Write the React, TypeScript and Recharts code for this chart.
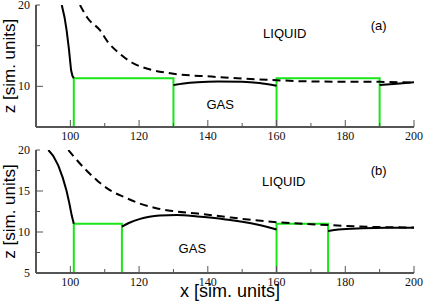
import { LineChart, Line, XAxis, YAxis, ReferenceDot } from "recharts";

// ---- panel (a) ----
const aEdgeX = [97.5, 98.3, 98.9, 99.6, 100.2, 100.6, 101];
const aEdgeZ = [20, 18.5, 16.9, 14.5, 12, 11.3, 11];
const aMidX = [130, 133, 137, 143, 150, 155, 160];
const aMidZ = [10.15, 10.35, 10.5, 10.58, 10.55, 10.4, 10.08];
const aEndX = [190, 195, 200];
const aEndZ = [10.15, 10.33, 10.5];
const aDashX = [102.8, 105, 108.6, 111, 114.4, 118, 123, 130, 141, 150, 160, 170, 180, 190, 200];
const aDashZ = [20, 18.4, 16.9, 15.4, 14, 12.9, 12.1, 11.55, 11.2, 10.95, 10.75, 10.6, 10.57, 10.55, 10.45];
const aBox1X = [101, 101, 130, 130];
const aBox2X = [160, 160, 190, 190];

// ---- panel (b) ----
const bEdgeX = [93.6, 95, 96.5, 97.8, 98.9, 99.7, 100.4, 101];
const bEdgeZ = [20, 19.3, 18.1, 16.6, 15, 13.5, 12, 11];
const bMidX = [115, 117, 120.3, 123, 126, 131, 137, 142, 146.5, 150, 155, 160];
const bMidZ = [10.65, 11.1, 11.6, 11.85, 12, 12.07, 11.9, 11.7, 11.45, 11.25, 10.85, 10.3];
const bEndX = [175, 178, 185, 192, 200];
const bEndZ = [10.12, 10.3, 10.45, 10.52, 10.53];
const bDashX = [99.4, 101, 104.7, 108, 111.5, 116, 120, 125, 130, 137, 145, 150, 160, 175, 190, 200];
const bDashZ = [20, 19.2, 17.5, 16.2, 15.1, 14.2, 13.5, 12.9, 12.55, 12.25, 11.85, 11.6, 11.2, 10.85, 10.6, 10.55];
const bBox1X = [101, 101, 115, 115];
const bBox2X = [160, 160, 175, 175];

const boxZ = [5, 11, 11, 5];

// ticks
const xTicks = [100, 110, 120, 130, 140, 150, 160, 170, 180, 190, 200];
const xMajor = [100, 120, 140, 160, 180, 200];
const aYTicks = [10, 15, 20];
const aYMajor = [10];
const aYLabels = [10, 20];
const bYTicks = [5, 7.5, 10, 12.5, 15, 17.5, 20];
const bYMajor = [10, 15];
const bYLabels = [5, 10, 15, 20];

// annotations
const aNotes = [
  { text: "LIQUID", x: 162.4, z: 16.55 },
  { text: "(a)", x: 189.7, z: 17.5 },
  { text: "GAS", x: 143.6, z: 7.82 },
];
const bNotes = [
  { text: "LIQUID", x: 162.1, z: 16.2 },
  { text: "(b)", x: 189.7, z: 17.56 },
  { text: "GAS", x: 135.5, z: 8.0 },
];

const zip = (xs: number[], zs: number[]) => xs.map((x, i) => ({ x, z: zs[i] }));

const FRAME = "#555";
const GREEN = "#19e619";
const SANS = "'Liberation Sans', Arial, sans-serif";
const SERIF = "'Liberation Serif', 'Times New Roman', serif";

function makeTick(side: string, major: number[], labels: number[]) {
  return (p: any) => {
    const v = p.payload.value;
    const len = major.includes(v) ? 7 : 4;
    const { x, y } = p;
    let line;
    if (side === "bottom") line = <line x1={x} y1={y} x2={x} y2={y - len} />;
    else if (side === "top") line = <line x1={x} y1={y} x2={x} y2={y + len} />;
    else if (side === "left") line = <line x1={x} y1={y} x2={x + len} y2={y} />;
    else line = <line x1={x} y1={y} x2={x - len} y2={y} />;
    let label = null;
    if (labels.includes(v)) {
      if (side === "bottom")
        label = (
          <text x={x} y={y + 13} textAnchor="middle" fontSize={12} fontFamily={SERIF} fill="#111" stroke="none">
            {v}
          </text>
        );
      if (side === "left")
        label = (
          <text x={x - 6} y={y + 4} textAnchor="end" fontSize={12} fontFamily={SERIF} fill="#111" stroke="none">
            {v}
          </text>
        );
    }
    return (
      <g stroke={FRAME} strokeWidth={1}>
        {line}
        {label}
      </g>
    );
  };
}

const yTitle = (props: any) => {
  const vb = props.viewBox;
  const cx = vb.x + 15;
  const cy = vb.y + vb.height / 2;
  return (
    <text x={cx} y={cy} transform={`rotate(-90, ${cx}, ${cy})`} textAnchor="middle" fontSize={17} fontFamily={SANS} fill="#000">
      z [sim. units]
    </text>
  );
};

const xTitle = (props: any) => {
  const vb = props.viewBox;
  return (
    <text x={230} y={vb.y + 24} textAnchor="middle" fontSize={18} fontFamily={SANS} fill="#000">
      x [sim. units]
    </text>
  );
};

type Seg = { xs: number[]; zs: number[]; kind: "linear" | "monotone" };

function Panel(props: {
  height: number;
  bottomH: number;
  yTicks: number[];
  yMajor: number[];
  yLabels: number[];
  solid: Seg[];
  dash: Seg;
  boxes: number[][];
  notes: { text: string; x: number; z: number }[];
  showXTitle: boolean;
}) {
  const axisLine = { stroke: FRAME, strokeWidth: 2 };
  return (
    <LineChart width={424} height={props.height} margin={{ top: 5, right: 10, bottom: 0, left: 0 }}>
      <XAxis
        xAxisId="b"
        type="number"
        dataKey="x"
        domain={[90, 200]}
        ticks={xTicks}
        interval={0}
        height={props.bottomH}
        tickSize={0}
        tickMargin={0}
        axisLine={axisLine}
        tickLine={false}
        tick={makeTick("bottom", xMajor, xMajor)}
        allowDataOverflow
        label={props.showXTitle ? xTitle : undefined}
      />
      <XAxis
        xAxisId="t"
        orientation="top"
        type="number"
        dataKey="x"
        domain={[90, 200]}
        ticks={xTicks}
        interval={0}
        height={0}
        tickSize={0}
        tickMargin={0}
        axisLine={axisLine}
        tickLine={false}
        tick={makeTick("top", xMajor, [])}
        allowDataOverflow
      />
      <YAxis
        yAxisId="l"
        type="number"
        domain={[5, 20]}
        ticks={props.yTicks}
        interval={0}
        width={36}
        tickSize={0}
        tickMargin={0}
        axisLine={axisLine}
        tickLine={false}
        tick={makeTick("left", props.yMajor, props.yLabels)}
        allowDataOverflow
        label={yTitle}
      />
      <YAxis
        yAxisId="r"
        orientation="right"
        type="number"
        domain={[5, 20]}
        ticks={props.yTicks}
        interval={0}
        width={0}
        tickSize={0}
        tickMargin={0}
        axisLine={axisLine}
        tickLine={false}
        tick={makeTick("right", props.yMajor, [])}
        allowDataOverflow
      />
      {props.boxes.map((bx, i) => (
        <Line
          key={"box" + i}
          xAxisId="b"
          yAxisId="l"
          data={zip(bx, boxZ)}
          dataKey="z"
          type="linear"
          stroke={GREEN}
          strokeWidth={2}
          dot={false}
          isAnimationActive={false}
        />
      ))}
      {props.solid.map((s, i) => (
        <Line
          key={"solid" + i}
          xAxisId="b"
          yAxisId="l"
          data={zip(s.xs, s.zs)}
          dataKey="z"
          type={s.kind}
          stroke="#000"
          strokeWidth={2}
          dot={false}
          isAnimationActive={false}
        />
      ))}
      <Line
        xAxisId="b"
        yAxisId="l"
        data={zip(props.dash.xs, props.dash.zs)}
        dataKey="z"
        type={props.dash.kind}
        stroke="#000"
        strokeWidth={2}
        strokeDasharray="8 5"
        dot={false}
        isAnimationActive={false}
      />
      {props.notes.map((n) => (
        <ReferenceDot
          key={n.text}
          xAxisId="b"
          yAxisId="l"
          x={n.x}
          y={n.z}
          r={0}
          fill="none"
          stroke="none"
          label={{ value: n.text, position: "center", fontSize: 13, fontFamily: SANS, fill: "#000" }}
        />
      ))}
    </LineChart>
  );
}

export default function App() {
  return (
    <div style={{ position: "absolute", left: 0, top: 0, width: 424, height: 305, background: "#fff" }}>
      <div style={{ position: "absolute", left: 0, top: 0 }}>
        <Panel
          height={145}
          bottomH={18}
          yTicks={aYTicks}
          yMajor={aYMajor}
          yLabels={aYLabels}
          solid={[
            { xs: aEdgeX, zs: aEdgeZ, kind: "linear" },
            { xs: aMidX, zs: aMidZ, kind: "monotone" },
            { xs: aEndX, zs: aEndZ, kind: "monotone" },
          ]}
          dash={{ xs: aDashX, zs: aDashZ, kind: "monotone" }}
          boxes={[aBox1X, aBox2X]}
          notes={aNotes}
          showXTitle={false}
        />
      </div>
      <div style={{ position: "absolute", left: 0, top: 145 }}>
        <Panel
          height={160}
          bottomH={32}
          yTicks={bYTicks}
          yMajor={bYMajor}
          yLabels={bYLabels}
          solid={[
            { xs: bEdgeX, zs: bEdgeZ, kind: "linear" },
            { xs: bMidX, zs: bMidZ, kind: "monotone" },
            { xs: bEndX, zs: bEndZ, kind: "monotone" },
          ]}
          dash={{ xs: bDashX, zs: bDashZ, kind: "monotone" }}
          boxes={[bBox1X, bBox2X]}
          notes={bNotes}
          showXTitle={true}
        />
      </div>
    </div>
  );
}
